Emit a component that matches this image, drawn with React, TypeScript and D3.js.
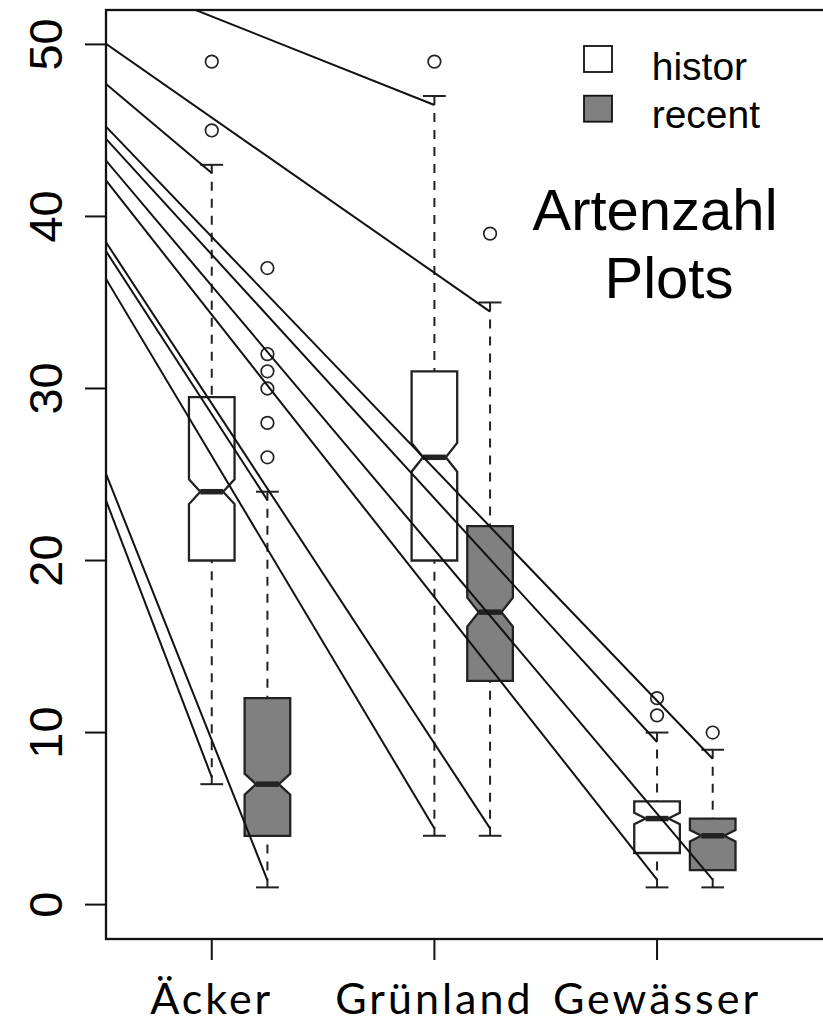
import React from "react";
import * as d3 from "d3";

// groups on the x axis and the two sampling periods
const categories = ["Äcker", "Grünland", "Gewässer"];
const seriesNames = ["histor", "recent"];
const seriesFill = ["#ffffff", "#808080"];
const seriesOffset = [0, 0.25];

// five-number summaries: lower whisker, Q1, median, Q3, upper whisker
const historStats = [
  [7, 20, 24, 29.5, 43],
  [4, 20, 26, 31, 47],
  [1, 3, 5, 6, 10],
];
const recentStats = [
  [1, 4, 7, 12, 24],
  [4, 13, 17, 22, 35],
  [1, 2, 4, 5, 9],
];
// half height of the median notch
const historNotch = [0.72, 0.84, 0.33];
const recentNotch = [0.61, 0.84, 0.33];
const historOutliers = [[45, 49], [49], [11, 12]];
const recentOutliers = [[26, 28, 30, 31, 32, 37], [39], [10]];

const yTicks = [0, 10, 20, 30, 40, 50];

// connecting lines: value at the left frame edge, target box position, value at the end
const linkStart = [54.07, 50.03, 47.7, 45.22, 44.51, 43.25, 42.09, 37.98, 38.5, 36.37, 25.04, 23.49];
const linkTargetPos = [2, 2.25, 1, 3.25, 3, 3.25, 3, 1.25, 2.25, 2, 1.25, 1];
const linkEnd = [46.48, 34.47, 42.53, 8.48, 9.45, 1.45, 1.45, 23.51, 4.43, 4.42, 1.41, 7.41];

const W = 823;
const H = 1025;
const X_MIN = 0.525;
const X_MAX = 3.85;
const BOX_HALF = 0.1024;
const INK = "#222222";
const SANS = "'Liberation Sans', Arial, sans-serif";
const LABEL_FONT = "Lato, 'Open Sans', sans-serif";

export default function App() {
  const x = d3.scaleLinear().domain([X_MIN, X_MAX]).range([106, 846.3]);
  const y = d3.scaleLinear().domain([-2, 52]).range([939, 10]);
  const [left, right] = x.range();
  const [bottom, top] = y.range();
  const halfPx = x(1 + BOX_HALF) - x(1);

  const boxes = [historStats, recentStats].flatMap((stats, si) =>
    stats.map((s, ci) => ({
      key: `${si}-${ci}`,
      pos: ci + 1 + seriesOffset[si],
      s,
      notch: (si === 0 ? historNotch : recentNotch)[ci],
      out: (si === 0 ? historOutliers : recentOutliers)[ci],
      fill: seriesFill[si],
    }))
  );

  const line = d3.line<[number, number]>();

  const notchPath = (pos: number, s: number[], notch: number) => {
    const [, q1, med, q3] = s;
    const b = BOX_HALF;
    const pts: [number, number][] = [
      [pos - b, q1],
      [pos + b, q1],
      [pos + b, med - notch],
      [pos + b / 2, med],
      [pos + b, med + notch],
      [pos + b, q3],
      [pos - b, q3],
      [pos - b, med + notch],
      [pos - b / 2, med],
      [pos - b, med - notch],
    ];
    return line(pts.map(([a, v]) => [x(a), y(v)])) + "Z";
  };

  return (
    <svg
      width={W}
      height={H}
      viewBox={`0 0 ${W} ${H}`}
      style={{ position: "absolute", left: 0, top: 0, background: "#fff" }}
    >
      <defs>
        <clipPath id="plot-area">
          <rect x={left} y={top} width={right - left} height={bottom - top} />
        </clipPath>
      </defs>
      <rect x={0} y={0} width={W} height={H} fill="#fff" />

      {/* boxes, whiskers and outliers */}
      {boxes.map((bx) => {
        const cx = x(bx.pos);
        const [lo, q1, med, q3, hi] = bx.s;
        return (
          <g key={bx.key}>
            <line x1={cx} x2={cx} y1={y(hi)} y2={y(q3)} stroke={INK} strokeWidth={2} strokeDasharray="9 8" />
            <line x1={cx} x2={cx} y1={y(lo)} y2={y(q1)} stroke={INK} strokeWidth={2} strokeDasharray="9 8" />
            <line x1={cx - halfPx / 2} x2={cx + halfPx / 2} y1={y(hi)} y2={y(hi)} stroke={INK} strokeWidth={2} />
            <line x1={cx - halfPx / 2} x2={cx + halfPx / 2} y1={y(lo)} y2={y(lo)} stroke={INK} strokeWidth={2} />
            <path d={notchPath(bx.pos, bx.s, bx.notch)} fill={bx.fill} stroke={INK} strokeWidth={2.3} strokeLinejoin="miter" />
            <line x1={cx - halfPx / 2} x2={cx + halfPx / 2} y1={y(med)} y2={y(med)} stroke={INK} strokeWidth={5.5} />
            {bx.out.map((v, i) => (
              <circle key={i} cx={cx} cy={y(v)} r={6.3} fill="none" stroke={INK} strokeWidth={1.7} />
            ))}
          </g>
        );
      })}

      {/* connecting lines */}
      <g clipPath="url(#plot-area)">
        {linkStart.map((v, i) => (
          <line
            key={i}
            x1={x(X_MIN)}
            y1={y(v)}
            x2={x(linkTargetPos[i])}
            y2={y(linkEnd[i])}
            stroke="#111"
            strokeWidth={2}
          />
        ))}
      </g>

      {/* frame */}
      <rect x={left} y={top} width={right - left} height={bottom - top} fill="none" stroke="#111" strokeWidth={2.3} />

      {/* y axis */}
      {yTicks.map((t) => (
        <g key={t}>
          <line x1={left - 21} x2={left} y1={y(t)} y2={y(t)} stroke="#111" strokeWidth={2} />
          <text
            transform={`translate(62,${y(t)}) rotate(-90)`}
            textAnchor="middle"
            fontFamily={SANS}
            fontSize={47}
            fill="#000"
          >
            {t}
          </text>
        </g>
      ))}

      {/* x axis */}
      {categories.map((c, i) => (
        <g key={c}>
          <line x1={x(i + 1)} x2={x(i + 1)} y1={bottom} y2={bottom + 21} stroke="#111" strokeWidth={2} />
          <text
            x={x(i + 1)}
            y={1014}
            textAnchor="middle"
            fontFamily={LABEL_FONT}
            fontSize={43}
            letterSpacing={3}
            fill="#000"
          >
            {c}
          </text>
        </g>
      ))}

      {/* legend */}
      {seriesNames.map((n, i) => (
        <g key={n}>
          <rect x={584} y={46 + i * 49.7} width={28} height={26} fill={seriesFill[i]} stroke="#111" strokeWidth={1.8} />
          <text x={651.7} y={80 + i * 48.3} fontFamily={SANS} fontSize={39} fill="#000">
            {n}
          </text>
        </g>
      ))}

      {/* annotation */}
      <text x={655} y={230} textAnchor="middle" fontFamily={SANS} fontSize={58} fill="#000">
        Artenzahl
      </text>
      <text x={669} y={298} textAnchor="middle" fontFamily={SANS} fontSize={58} fill="#000">
        Plots
      </text>
    </svg>
  );
}
